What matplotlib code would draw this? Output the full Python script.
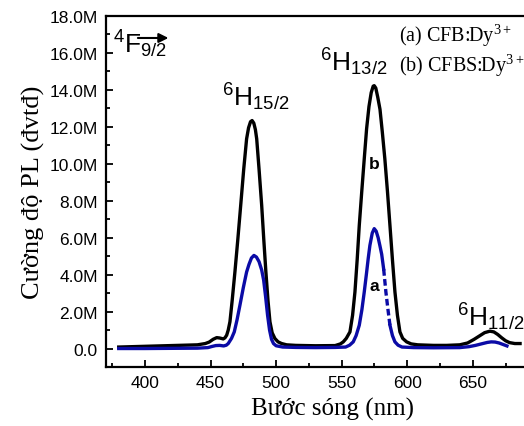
import numpy as np
import matplotlib
matplotlib.use('Agg')
import matplotlib.pyplot as plt
from matplotlib.ticker import MultipleLocator, FuncFormatter

# wavelength (nm) / intensity (millions of counts)
# curve b : CFBS:Dy3+
wl_b = [380, 400, 420, 440, 446, 449, 452, 454.7, 457, 459.7, 461, 462.3, 463.5, 464.8,
        466.5, 468.6, 470.8, 473.0, 475.3, 477.5, 479, 480.5, 481.7, 483, 484.2, 485.2,
        487, 489.0, 490.6, 492.2, 493.8, 495.3, 497, 499.1, 501.5, 504.2, 508, 515, 530,
        545, 549, 551.2, 553.5, 556.3, 558.3, 560.1, 561.8, 563.4, 565.3, 567.2, 569,
        570.8, 572.5, 574, 574.8, 576, 577.5, 579.2, 581, 582.9, 584.9, 586.8, 588.7,
        590.6, 592.5, 594.4, 596.5, 599.5, 603, 608, 620, 630, 640, 646, 651, 655, 659,
        663, 666, 669, 672, 675, 678, 682, 686]
int_b = [0.08, 0.12, 0.16, 0.2, 0.27, 0.35, 0.5, 0.59, 0.57, 0.52, 0.58, 0.72, 1.0, 1.45,
         2.6, 4.15, 5.9, 7.75, 9.7, 11.35, 11.95, 12.28, 12.34, 12.2, 11.85, 11.35,
         9.7, 7.75, 5.9, 4.15, 2.6, 1.45, 0.85, 0.54, 0.36, 0.27, 0.2, 0.17, 0.15,
         0.16, 0.25, 0.36, 0.55, 0.9, 1.8, 3.06, 4.8, 6.66, 8.5, 10.27, 11.9,
         13.1, 13.85, 14.2, 14.23, 14.1, 13.6, 12.95, 11.7, 10.27, 8.5, 6.66, 4.8,
         3.06, 1.8, 0.9, 0.55, 0.36, 0.25, 0.2, 0.17, 0.17, 0.2, 0.3, 0.5, 0.68, 0.86,
         0.94, 0.9, 0.76, 0.58, 0.42, 0.32, 0.27, 0.27]

# curve a : CFB:Dy3+
wl_a = [380, 400, 420, 440, 448, 451, 454, 457, 460, 462, 463.5, 466, 468.1, 470.2, 472.4,
        475, 477.5, 479.3, 481.2, 483.1, 485, 487, 489, 490.5, 492, 493.5, 495, 496.5, 498,
        500, 505, 515, 530, 545, 553, 556, 558.8, 561, 563.4, 565.4, 567.2, 568.8, 570.2,
        571.5, 573.3, 574.8, 576.3, 577.8, 579.1, 580.5, 582, 583.7, 585.3, 586.8, 588.7,
        590.6, 593, 596, 605, 620, 640, 647, 652, 657, 661, 664, 667, 670, 673, 676]
int_a = [0.0, 0.0, 0.01, 0.02, 0.05, 0.11, 0.16, 0.17, 0.14, 0.18, 0.27, 0.55, 0.9, 1.55, 2.34,
         3.3, 4.14, 4.55, 4.9, 5.04, 4.95, 4.7, 4.25, 3.7, 2.8, 1.8, 1.0, 0.5, 0.27,
         0.15, 0.08, 0.06, 0.05, 0.06, 0.08, 0.18, 0.36, 0.7, 1.26, 2.1, 3.06, 4.0, 4.86,
         5.58, 6.25, 6.49, 6.35, 6.0, 5.58, 5.1, 4.3, 3.06, 2.1, 1.26, 0.7,
         0.36, 0.18, 0.08, 0.05, 0.04, 0.05, 0.1, 0.17, 0.26, 0.33, 0.36, 0.35, 0.3, 0.22, 0.14]

dash_range = (582, 586.8)

xticks = [400, 450, 500, 550, 600, 650]
yticks = [0, 2, 4, 6, 8, 10, 12, 14, 16, 18]

sans = 'Liberation Sans'
serif = 'Liberation Serif'
blue = '#0B0BA6'
lw = 2.4

fig = plt.figure(figsize=(5.24, 4.27), dpi=100)
ax = fig.add_axes([106 / 524, 59 / 427, 418 / 524, 351 / 427])

wa = np.array(wl_a)
ia = np.array(int_a)

ax.plot(wl_b, int_b, color='black', lw=lw, solid_joinstyle='round')
m1 = wa <= dash_range[0]
m2 = (wa >= dash_range[0]) & (wa <= dash_range[1])
m3 = wa >= dash_range[1]
ax.plot(wa[m1], ia[m1], color=blue, lw=lw, solid_joinstyle='round')
ax.plot(wa[m2], ia[m2], color=blue, lw=lw, ls=(0, (2.0, 1.0)))
ax.plot(wa[m3], ia[m3], color=blue, lw=lw, solid_joinstyle='round')

ax.set_xlim(370.3, 689)
ax.set_ylim(-1, 18)
ax.set_xticks(xticks)
ax.set_yticks(yticks)
ax.xaxis.set_minor_locator(MultipleLocator(25))
ax.yaxis.set_minor_locator(MultipleLocator(1))
ax.yaxis.set_major_formatter(FuncFormatter(lambda v, _: '0.0' if abs(v) < 1e-9 else f'{v:.1f}M'))

ax.tick_params(which='both', direction='in', width=1.3, top=False, right=False)
ax.tick_params(which='major', length=5, pad=6, labelsize=12.5)
ax.tick_params(which='minor', length=3)
for lab in ax.get_xticklabels() + ax.get_yticklabels():
    lab.set_family(sans)
for s in ['left', 'bottom', 'top']:
    ax.spines[s].set_linewidth(1.6)
ax.spines['right'].set_visible(False)

ax.set_xlabel('Bước sóng (nm)', family=serif, fontsize=18)
ax.xaxis.set_label_coords(0.543, -0.085)
ax.set_ylabel('Cường độ PL (đvtđ)', family=serif, fontsize=19, labelpad=3)

lbl = dict(family=sans, fontsize=19, ha='left', va='baseline')
ax.text(458.7, 13.14, r'$\mathregular{^6H_{15/2}}$', **lbl)
ax.text(533.4, 15.03, r'$\mathregular{^6H_{13/2}}$', **lbl)
ax.text(637.8, 1.24, r'$\mathregular{^6H_{11/2}}$', **lbl)
ax.text(375.6, 16.05, r'$\mathregular{^4F_{9/2}}$', **lbl)
ax.annotate('', xy=(420, 16.81), xytext=(392.5, 16.81),
            arrowprops=dict(arrowstyle='-|>', color='black', lw=1.5, mutation_scale=14))

leg = dict(family=serif, fontsize=14.5, ha='left', va='baseline')
ax.text(593.6, 16.65, r'(a) CFB:Dy$\mathregular{^{3+}}$', **leg)
ax.text(593.6, 15.03, r'(b) CFBS:Dy$\mathregular{^{3+}}$', **leg)

ax.text(574.6, 10.0, 'b', family=sans, fontsize=12.5, fontweight='bold', ha='center', va='center')
ax.text(574.6, 3.41, 'a', family=sans, fontsize=12.5, fontweight='bold', ha='center', va='center')

fig.savefig('out.png', dpi=100)
